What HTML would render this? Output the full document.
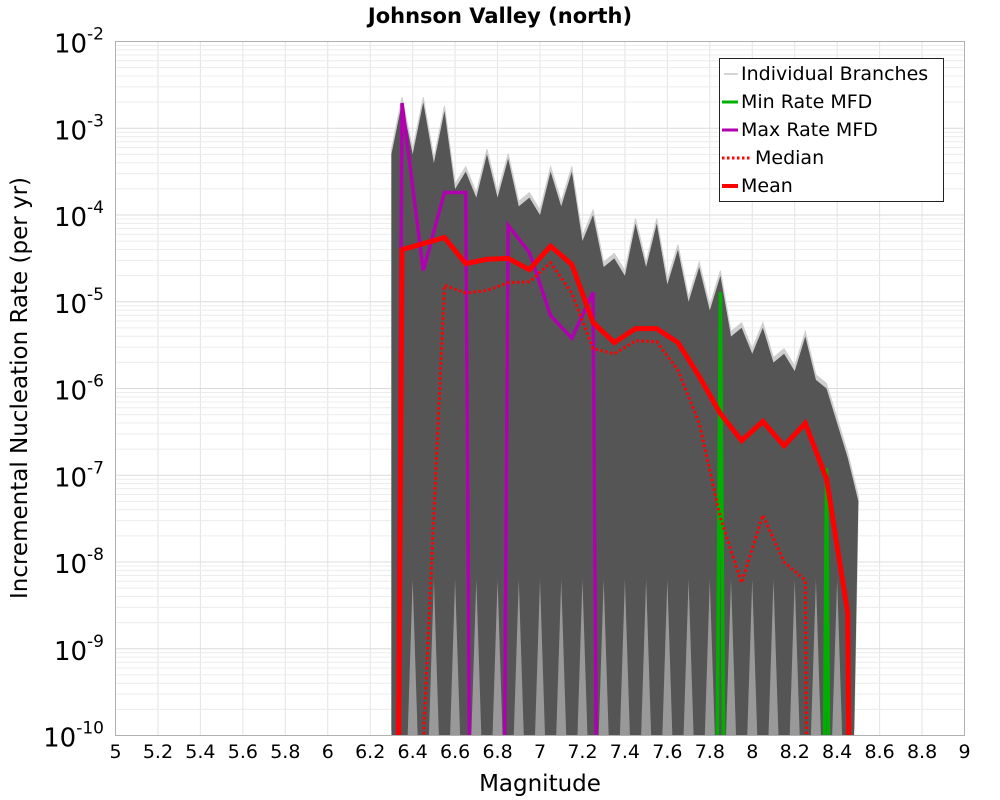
<!DOCTYPE html>
<html><head><meta charset="utf-8">
<style>
html,body{margin:0;padding:0;background:#fff;overflow:hidden;width:1000px;height:800px;}
svg{display:block;}
svg text{font-family:"DejaVu Sans","Liberation Sans",sans-serif;}
</style></head>
<body>
<svg id="chart" width="1000" height="800" xmlns="http://www.w3.org/2000/svg">
<text x="500" y="23" text-anchor="middle" font-size="21" font-weight="bold">Johnson Valley (north)</text>
<g id="grid"></g>
<g id="band"></g>
<g id="series"></g>
<rect x="115.5" y="41.5" width="849" height="694" fill="none" stroke="#b0b0b0"/>
<g id="axes"></g>
<text x="540" y="791" text-anchor="middle" font-size="23">Magnitude</text>
<text transform="translate(27,388) rotate(-90)" text-anchor="middle" font-size="23">Incremental Nucleation Rate (per yr)</text>
<g>
<rect x="719.5" y="58.5" width="224" height="143" fill="#fff" stroke="#222"/>
<line x1="724" y1="74" x2="738" y2="74" stroke="#aaa" stroke-width="1"/>
<text x="741" y="80" font-size="19">Individual Branches</text>
<line x1="722" y1="102" x2="738" y2="102" stroke="#00b000" stroke-width="3"/>
<text x="741" y="108" font-size="19">Min Rate MFD</text>
<line x1="722" y1="130" x2="738" y2="130" stroke="#b000b0" stroke-width="3"/>
<text x="741" y="136" font-size="19">Max Rate MFD</text>
<line x1="722" y1="158" x2="750" y2="158" stroke="#f00" stroke-width="3" stroke-dasharray="2.5,2.5"/>
<text x="755" y="164" font-size="19">Median</text>
<line x1="722" y1="186" x2="738" y2="186" stroke="#f00" stroke-width="4"/>
<text x="741" y="192" font-size="19">Mean</text>
</g>
</svg>
<script>
const mags=[6.25,6.35,6.45,6.55,6.65,6.75,6.85,6.95,7.05,7.15,7.25,7.35,7.45,7.55,7.65,7.75,7.85,7.95,8.05,8.15,8.25,8.35,8.45,8.55];
const meanLog=[-40,-4.40,-4.33,-4.26,-4.56,-4.51,-4.50,-4.63,-4.36,-4.57,-5.24,-5.47,-5.31,-5.31,-5.47,-5.86,-6.29,-6.60,-6.38,-6.66,-6.40,-7.04,-8.59,-40];
const medianLog=[-40,-40,-10.1,-4.81,-4.90,-4.87,-4.78,-4.77,-4.55,-4.90,-5.54,-5.60,-5.45,-5.46,-5.79,-6.40,-7.49,-8.24,-7.46,-8.00,-8.21,-40,-40,-40];
const maxLog=[-40,-2.71,-4.64,-3.74,-3.74,-40,-4.12,-4.43,-5.16,-5.42,-4.89,-40,-40,-40,-40,-40,-40,-40,-40,-40,-40,-40,-40,-40];
const minLog=[-40,-40,-40,-40,-40,-40,-40,-40,-40,-40,-40,-40,-40,-40,-40,-40,-4.89,-40,-40,-40,-40,-6.92,-40,-40];
const branchPeakLog=[-40,-2.7,-2.7,-2.8,-3.5,-3.3,-3.35,-3.8,-3.5,-3.5,-4.0,-4.5,-4.1,-4.1,-4.4,-4.6,-4.7,-5.3,-5.3,-5.6,-5.4,-6.0,-6.8,-40];
const branchValleyLog=[-40,-3.3,-3.4,-3.7,-3.8,-3.8,-3.9,-4.0,-3.9,-4.3,-4.6,-4.7,-4.6,-4.8,-5.0,-5.1,-5.4,-5.6,-5.7,-5.8,-5.9,-6.4,-40];
const xTicks=[5,5.2,5.4,5.6,5.8,6,6.2,6.4,6.6,6.8,7,7.2,7.4,7.6,7.8,8,8.2,8.4,8.6,8.8,9];
const yDecades=[-2,-3,-4,-5,-6,-7,-8,-9,-10];
const NS="http://www.w3.org/2000/svg";
const X0=115.5,X1=964.5,Y0=41.5,Y1=735.5;
const xs=m=>X0+(m-5)/4*(X1-X0);
const ys=l=>Y0+(-2-l)/8*(Y1-Y0);
function mk(tag,attrs,parent){const e=document.createElementNS(NS,tag);for(const k in attrs)e.setAttribute(k,attrs[k]);parent.appendChild(e);return e;}
const grid=document.getElementById('grid'),axes=document.getElementById('axes');
xTicks.forEach(t=>{
 const l=mk('line',{x1:xs(t),x2:xs(t),y1:Y0,y2:Y1,stroke:'#e4e4e4'},grid);
 
 
 const tx=mk('text',{x:xs(t),y:758,'text-anchor':'middle','font-size':'19'},axes);
 
 
 tx.textContent=String(t);
});
yDecades.forEach(d=>{
 for(let k=1;k<10;k++){
  const y=ys(d+Math.log10(k));
  if(y<Y0-0.1||y>Y1+0.1)continue;
  const l=mk('line',{x1:X0,x2:X1,y1:y,y2:y,stroke:k===1?'#dcdcdc':'#ececec'},grid);
  
  
 }
 const tx=mk('text',{x:104,y:ys(d)+11,'text-anchor':'end','font-size':'26'},axes);
 
 
 tx.innerHTML='10<tspan dy="-13" font-size="17">'+d+'</tspan>';
});
const clipDef=mk('defs',{},document.getElementById('chart'));
const cp=mk('clipPath',{id:'pc'},clipDef);
mk('rect',{x:X0,y:Y0,width:X1-X0,height:Y1-Y0},cp);
const band=document.getElementById('band');band.setAttribute('clip-path','url(#pc)');
let pts=[];
pts.push([xs(6.3),Y1]);
for(let i=1;i<mags.length-1;i++){
 if(branchPeakLog[i]<-20)continue;
 pts.push([xs(mags[i]-0.05),ys(branchValleyLog[i-1]>-20?branchValleyLog[i-1]:branchValleyLog[i])]);
 pts.push([xs(mags[i]),ys(branchPeakLog[i])]);
}
pts.push([xs(8.5),ys(-7.3)]);
pts.push([xs(8.48),Y1]);
const light=mk('polyline',{points:pts.map(p=>p[0]+','+(p[1]-5)).join(' '),fill:'#cfcfcf',stroke:'#cfcfcf'},band);


const dark=mk('polygon',{points:pts.map(p=>p.join(',')).join(' '),fill:'#555'},band);


for(let i=1;i<mags.length-2;i++){
 if(branchPeakLog[i]<-20||branchPeakLog[i+1]<-20)continue;
 const xm=xs(mags[i]+0.05);
 const g=mk('polygon',{points:[[xm-5,Y1],[xm,ys(-8.2)],[xm+5,Y1]].map(p=>p.join(',')).join(' '),fill:'#fff','fill-opacity':'0.4'},band);
 
 
}
const ser=document.getElementById('series');ser.setAttribute('clip-path','url(#pc)');
function line(arr,attrs,name){
 const p=mk('polyline',Object.assign({points:arr.map((v,i)=>xs(mags[i])+','+ys(v)).join(' '),fill:'none','stroke-linejoin':'miter'},attrs),ser);
 
 
}
line(minLog,{stroke:'#00b000','stroke-width':3.5},'min-rate-line');
line(maxLog,{stroke:'#b000b0','stroke-width':3.5},'max-rate-line');
line(medianLog,{stroke:'#f00','stroke-width':3,'stroke-dasharray':'2.5,2.5'},'median-line');
line(meanLog,{stroke:'#f00','stroke-width':5},'mean-line');
</script>
</body></html>
